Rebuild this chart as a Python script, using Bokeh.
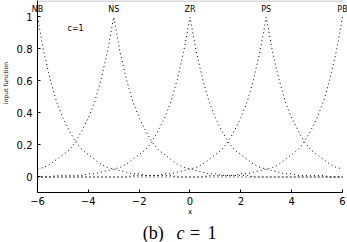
import math
from bokeh.plotting import figure
from bokeh.models import Range1d, LinearAxis, FixedTicker, Label, BoxAnnotation
from bokeh.embed import file_html
from bokeh.resources import INLINE

# x positions (input universe)
x = [-6.0, -5.75, -5.5, -5.25, -5.0, -4.75, -4.5, -4.25, -4.0, -3.75, -3.5, -3.25,
     -3.0, -2.75, -2.5, -2.25, -2.0, -1.75, -1.5, -1.25, -1.0, -0.75, -0.5, -0.25,
     0.0, 0.25, 0.5, 0.75, 1.0, 1.25, 1.5, 1.75, 2.0, 2.25, 2.5, 2.75,
     3.0, 3.25, 3.5, 3.75, 4.0, 4.25, 4.5, 4.75, 5.0, 5.25, 5.5, 5.75, 6.0]

# membership values
NB = [1.00, 0.78, 0.61, 0.47, 0.37, 0.29, 0.22, 0.17, 0.14, 0.11, 0.08, 0.06,
      0.05, 0.04, 0.03, 0.02, 0.02, 0.01, 0.01, 0.01, 0.01, 0.01, 0.00, 0.00,
      0.00, 0.00, 0.00, 0.00, 0.00, 0.00, 0.00, 0.00, 0.00, 0.00, 0.00, 0.00,
      0.00, 0.00, 0.00, 0.00, 0.00, 0.00, 0.00, 0.00, 0.00, 0.00, 0.00, 0.00, 0.00]
NS = [0.05, 0.06, 0.08, 0.11, 0.14, 0.17, 0.22, 0.29, 0.37, 0.47, 0.61, 0.78,
      1.00, 0.78, 0.61, 0.47, 0.37, 0.29, 0.22, 0.17, 0.14, 0.11, 0.08, 0.06,
      0.05, 0.04, 0.03, 0.02, 0.02, 0.01, 0.01, 0.01, 0.01, 0.01, 0.00, 0.00,
      0.00, 0.00, 0.00, 0.00, 0.00, 0.00, 0.00, 0.00, 0.00, 0.00, 0.00, 0.00, 0.00]
ZR = [0.00, 0.00, 0.00, 0.01, 0.01, 0.01, 0.01, 0.01, 0.02, 0.02, 0.03, 0.04,
      0.05, 0.06, 0.08, 0.11, 0.14, 0.17, 0.22, 0.29, 0.37, 0.47, 0.61, 0.78,
      1.00, 0.78, 0.61, 0.47, 0.37, 0.29, 0.22, 0.17, 0.14, 0.11, 0.08, 0.06,
      0.05, 0.04, 0.03, 0.02, 0.02, 0.01, 0.01, 0.01, 0.01, 0.01, 0.00, 0.00, 0.00]
PS = [0.00, 0.00, 0.00, 0.00, 0.00, 0.00, 0.00, 0.00, 0.00, 0.00, 0.00, 0.00,
      0.00, 0.00, 0.00, 0.01, 0.01, 0.01, 0.01, 0.01, 0.02, 0.02, 0.03, 0.04,
      0.05, 0.06, 0.08, 0.11, 0.14, 0.17, 0.22, 0.29, 0.37, 0.47, 0.61, 0.78,
      1.00, 0.78, 0.61, 0.47, 0.37, 0.29, 0.22, 0.17, 0.14, 0.11, 0.08, 0.06, 0.05]
PB = [0.00, 0.00, 0.00, 0.00, 0.00, 0.00, 0.00, 0.00, 0.00, 0.00, 0.00, 0.00,
      0.00, 0.00, 0.00, 0.00, 0.00, 0.00, 0.00, 0.00, 0.00, 0.00, 0.00, 0.00,
      0.00, 0.00, 0.00, 0.01, 0.01, 0.01, 0.01, 0.01, 0.02, 0.02, 0.03, 0.04,
      0.05, 0.06, 0.08, 0.11, 0.14, 0.17, 0.22, 0.29, 0.37, 0.47, 0.61, 0.78, 1.00]

set_names = ["NB", "NS", "ZR", "PS", "PB"]
set_centers = [-6, -3, 0, 3, 6]
x_ticks = [-6, -4, -2, 0, 2, 4, 6]
y_ticks = [0, 0.2, 0.4, 0.6, 0.8, 1]

# frame covers the whole canvas; axes are placed at fixed locations inside it
p = figure(width=347, height=242, output_backend="svg", toolbar_location=None,
           x_range=Range1d(-7.4557, 6.1967), y_range=Range1d(-0.4094, 1.1031),
           min_border_left=0, min_border_right=0, min_border_top=0,
           min_border_bottom=0, x_axis_location=None, y_axis_location=None,
           background_fill_color="white", border_fill_color="white")
p.outline_line_color = None
p.xgrid.visible = False
p.ygrid.visible = False

common = dict(major_tick_in=3, major_tick_out=0, minor_tick_line_color=None,
              major_label_text_font="DejaVu Sans",
              major_label_text_font_size="10px",
              major_label_text_color="black", axis_line_color="black",
              major_tick_line_color="black")

xax = LinearAxis(ticker=FixedTicker(ticks=x_ticks), fixed_location=-0.1,
                 bounds=(-6, 6), major_label_standoff=4, **common)
p.add_layout(xax, "below")
yax = LinearAxis(ticker=FixedTicker(ticks=y_ticks), fixed_location=-6,
                 bounds=(-0.1, 1.1), major_label_standoff=5,
                 major_label_overrides={0: "0", 1: "1"}, **common)
p.add_layout(yax, "left")

# top border of the axes box
p.add_layout(BoxAnnotation(left=-6, right=6, bottom=1.1, top=1.3,
                           fill_alpha=0, line_color="black", line_width=1))

for vals in [NB, NS, ZR, PS, PB]:
    p.line(x, vals, line_color="black", line_width=1, line_dash="1 3")

for name, c in zip(set_names, set_centers):
    p.add_layout(Label(x=c, y=1.045, text=name, text_align="center",
                       text_baseline="middle", text_font="DejaVu Sans",
                       text_font_size="8px", text_color="black"))

p.add_layout(Label(x=-4.82, y=0.93, text="c=1", text_align="left",
                   text_baseline="middle", text_font="DejaVu Sans",
                   text_font_size="8px", text_color="black"))

p.add_layout(Label(x=0, y=-0.219, text="x", text_align="center",
                   text_baseline="middle", text_font="DejaVu Sans",
                   text_font_size="7px", text_color="black"))

p.add_layout(Label(x=-7.26, y=0.5875, text="input function", angle=math.pi / 2,
                   text_align="center", text_baseline="middle",
                   text_font="DejaVu Sans", text_font_size="6px",
                   text_color="black"))

cap_y = -0.3469
cap_style = dict(text_align="left", text_baseline="middle",
                 text_font="Liberation Serif", text_font_size="18px",
                 text_color="black")
p.add_layout(Label(x=-1.857, y=cap_y, text="(b)", **cap_style))
p.add_layout(Label(x=-0.531, y=cap_y, text="c", text_font_style="italic",
                   **cap_style))
p.add_layout(Label(x=0.0, y=cap_y, text="=", **cap_style))
p.add_layout(Label(x=0.689, y=cap_y, text="1", **cap_style))

open("out.html", "w").write(file_html(p, INLINE))
